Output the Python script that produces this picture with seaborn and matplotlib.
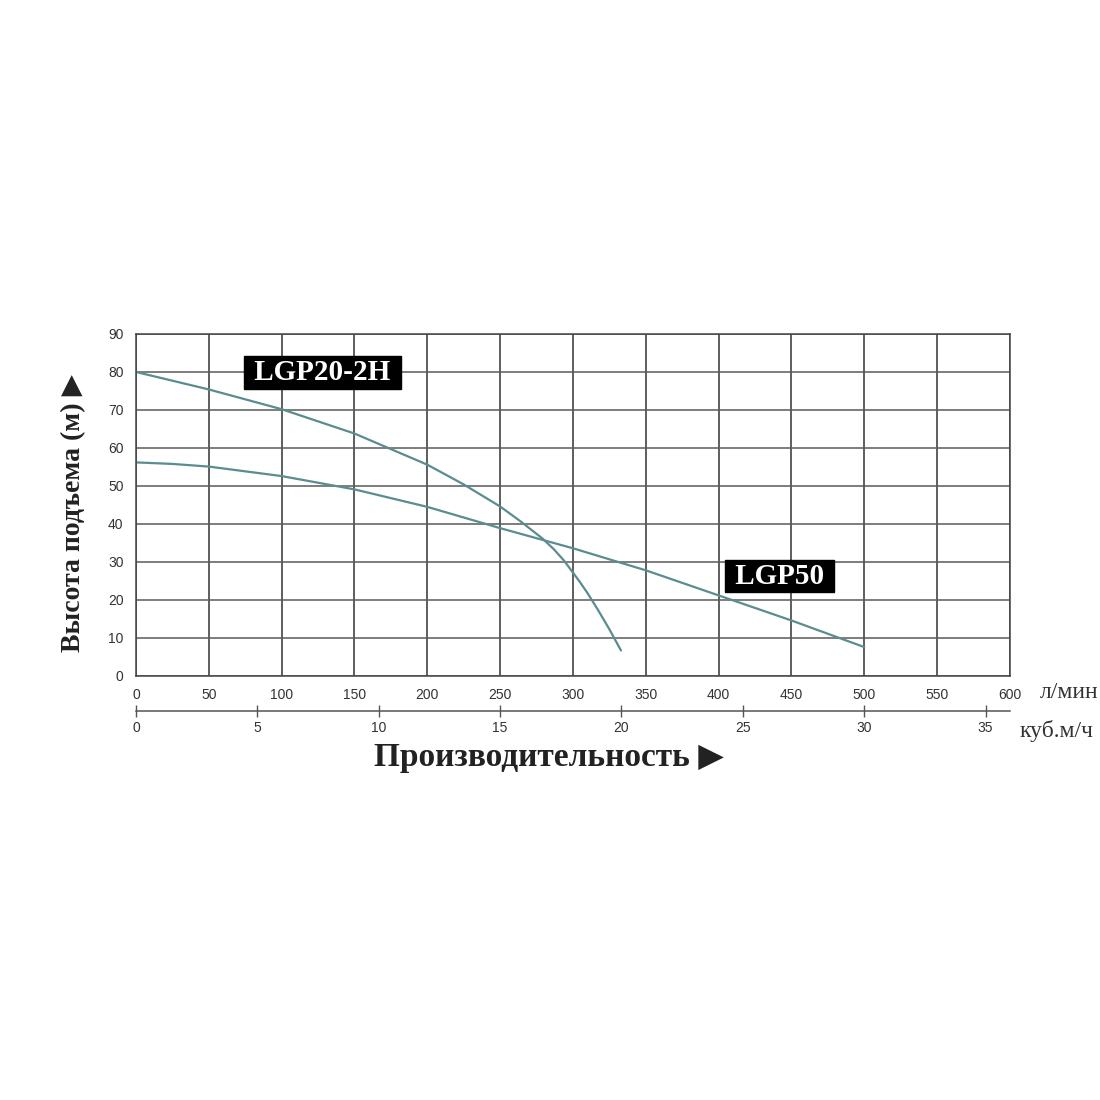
import pandas as pd
import seaborn as sns
import matplotlib.pyplot as plt

# Кривые насосов (л/мин, м)
q_lgp20 = [0, 50, 100, 150, 200, 225, 250, 264, 279, 287, 294, 300, 305, 310, 317, 325, 333]
h_lgp20 = [80, 75.4, 70.2, 63.8, 55.6, 50.4, 44.6, 40.7, 36.2, 33.3, 30.3, 27.2, 24.6, 21.8, 17.5, 12.3, 6.7]

q_lgp50 = [0, 25, 50, 100, 150, 200, 250, 300, 350, 400, 450, 500]
h_lgp50 = [56.2, 55.8, 55.1, 52.6, 49.1, 44.5, 38.9, 33.6, 27.8, 21.2, 14.6, 7.6]

x_ticks = list(range(0, 601, 50))
y_ticks = list(range(0, 91, 10))
m3h_ticks = [0, 5, 10, 15, 20, 25, 30, 35]

df = pd.concat([
    pd.DataFrame({'q': q_lgp20, 'h': h_lgp20, 'pump': 'LGP20-2H'}),
    pd.DataFrame({'q': q_lgp50, 'h': h_lgp50, 'pump': 'LGP50'}),
])

sns.set_style('white')
plt.rcParams['font.family'] = ['Liberation Sans', 'DejaVu Sans']

line_color = '#5b8c8f'
serif = ['Liberation Serif', 'DejaVu Serif', 'DejaVu Sans']

fig = plt.figure(figsize=(11, 11), dpi=100)
ax = fig.add_axes([0.1236, 0.3855, 0.7945, 0.3109])

sns.lineplot(data=df, x='q', y='h', hue='pump', palette=[line_color, line_color],
             estimator=None, sort=False, legend=False, linewidth=1.6, ax=ax)

ax.set_xlim(0, 600)
ax.set_ylim(0, 90)
ax.set_xticks(x_ticks)
ax.set_yticks(y_ticks)
ax.xaxis.grid(True, color='#333333', linewidth=1.1)
ax.yaxis.grid(True, color='#5a5a5a', linewidth=1.1)
for s in ax.spines.values():
    s.set_color('#444444')
    s.set_linewidth(1.1)
ax.tick_params(direction='out', length=5, width=1, color='#444444',
               labelsize=10, labelcolor='#333333', pad=4)

ax.set_xlabel('Производительность ▶', fontsize=24, fontweight='bold',
              family=serif, color='#222222', va='center')
ax.xaxis.set_label_coords(0.4725, -0.238)
ax.set_ylabel('Высота подъема (м) ▶', fontsize=20, fontweight='bold',
              family=serif, color='#222222', va='center')
ax.yaxis.set_label_coords(-0.071, 0.476)

# вторая шкала: куб.м/ч
sec = ax.secondary_xaxis(-0.1023, functions=(lambda q: q * 0.06, lambda v: v / 0.06))
sec.set_xticks(m3h_ticks)
sec.spines['bottom'].set_color('#555555')
sec.spines['bottom'].set_linewidth(1.1)
sec.tick_params(direction='inout', length=9, width=1, color='#555555',
                labelsize=10, labelcolor='#333333', pad=3)

ax.text(1.034, -0.047, 'л/мин', transform=ax.transAxes, fontsize=17,
        family=serif, color='#333333', ha='left', va='center')
ax.text(1.011, -0.161, 'куб.м/ч', transform=ax.transAxes, fontsize=17,
        family=serif, color='#333333', ha='left', va='center')

box = dict(boxstyle='square,pad=0.1', fc='black', ec='black')
ax.text(128, 79.8, ' LGP20-2H ', ha='center', va='center', color='white',
        fontsize=21, fontweight='bold', family=serif, bbox=box, zorder=5)
ax.text(442, 26.3, ' LGP50 ', ha='center', va='center', color='white',
        fontsize=21, fontweight='bold', family=serif, bbox=box, zorder=5)

plt.savefig('out.png', dpi=100)
